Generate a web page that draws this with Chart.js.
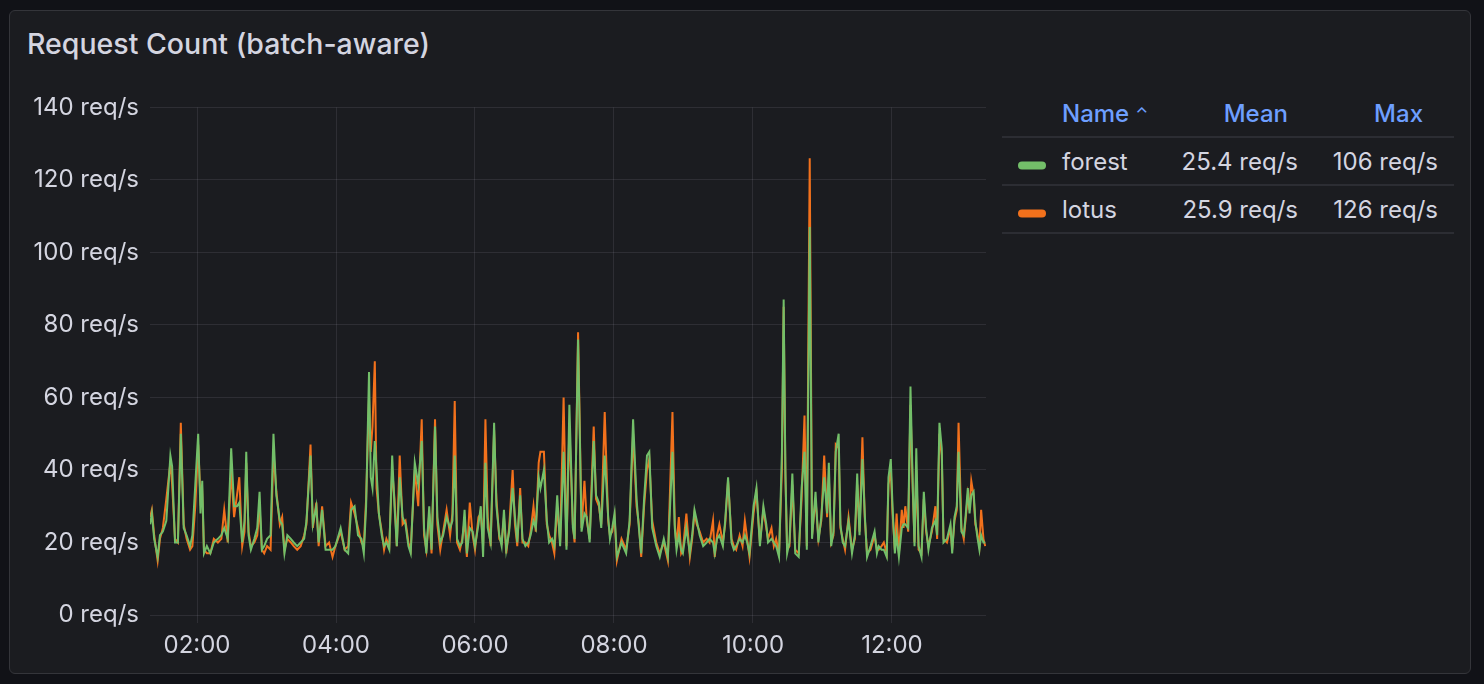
<!DOCTYPE html>
<html>
<head>
<meta charset="utf-8">
<script src="https://cdn.jsdelivr.net/npm/chart.js@4/dist/chart.umd.min.js"></script>
<style>
    body { margin: 0; background: #111217; width: 1484px; height: 684px; overflow: hidden; font-family: Inter, sans-serif; }
    .panel { position: absolute; left: 9px; top: 10px; width: 1462px; height: 664px; background: #1b1c20; border: 1px solid #34353a; border-radius: 6px; box-sizing: border-box; }
    .title { position: absolute; left: 27px; top: 26px; font-size: 28.5px; font-weight: 500; color: #d4d5e0; }
    .chart-box { position: absolute; left: 20px; top: 82px; width: 980px; height: 593px; }
    .legend { position: absolute; left: 1002px; top: 90px; width: 452px; color: #d4d5e0; font-size: 24px; }
    .legend .row { position: relative; height: 48px; border-bottom: 2px solid #2c2d33; box-sizing: border-box; }
    .legend .row span { position: absolute; top: 50%; transform: translateY(-50%); white-space: nowrap; }
    .legend .head span { color: #6e9fff; font-weight: 500; }
    .swatch { display: inline-block; width: 28px; height: 8px; border-radius: 4px; }
</style>
</head>
<body>
<div class="panel"></div>
<div class="title">Request Count (batch-aware)</div>
<div class="chart-box"><canvas id="reqChart"></canvas></div>
<div class="legend" id="legend"></div>

<script>
// minutes since midnight
const times = [79.5, 81, 83, 86, 88, 90.5, 93.5, 97, 98.5, 101, 103.5, 106, 108.5, 111, 114, 116, 118.5, 121, 123, 124.5,
    126, 128.5, 131.5, 134.5, 138, 141, 143.5, 146.5, 149.5, 152, 154.5, 156.5, 159, 161, 162.5, 164.5, 166.5, 169.5, 172, 174,
    176, 178, 180.5, 183.5, 186, 188.5, 191.5, 193.5, 195.5, 198, 201, 203.5, 206.5, 209.5, 212.5, 214.5, 218, 220, 223, 225,
    228, 231, 234, 237, 239.5, 244, 247.5, 250.5, 253, 256, 259, 262, 264, 266, 268.5, 270, 271.5, 273.5, 275, 277,
    279.5, 281.5, 283.5, 286, 288.5, 290.5, 292.5, 295, 297.5, 300, 302.5, 304.5, 308, 311, 314, 316, 318, 320.5, 322.5, 325.5,
    327.5, 330, 332.5, 335.5, 338.5, 340.5, 342.5, 344.5, 347, 349, 351, 353, 355.5, 358, 360, 363, 365, 367, 369, 371,
    373.5, 376.5, 378.5, 381, 383, 385, 387, 389.5, 392.5, 394.5, 396.5, 399, 401, 403.5, 406, 408, 410.5, 412.5, 415, 416.5,
    419.5, 422, 424, 426.5, 428.5, 431, 433.5, 436.5, 439, 441.5, 444.5, 446, 449, 452, 454.5, 456.5, 459, 462.5, 464.5, 467,
    469, 472, 475, 476.5, 478.5, 480.5, 482.5, 486.5, 490.5, 493.5, 496.5, 499.5, 501.5, 503.5, 506, 508.5, 510.5, 513, 516.5, 519.5,
    523, 526.5, 530.5, 532.5, 534, 536, 538, 539.5, 542.5, 545.5, 547.5, 549.5, 551.5, 554, 557, 560, 562.5, 565.5, 567, 569,
    571, 574, 576, 578.5, 581.5, 583.5, 585.5, 588.5, 591, 593, 595, 597, 600.5, 603, 606, 609, 611.5, 613, 616, 618,
    620, 622.5, 625, 626.5, 628, 629.5, 631.5, 634, 636.5, 639.5, 642, 644.5, 646.5, 649, 651, 654, 656.5, 659, 661.5, 664,
    665.5, 667.5, 669.5, 671.5, 674, 675.5, 677.5, 679.5, 682.5, 685.5, 688, 690, 692, 694.5, 696.5, 698.5, 701.5, 705, 707, 708.5,
    711, 713, 715.5, 717, 719, 720.5, 722.5, 724, 726, 728.5, 730, 731.5, 734, 736, 738, 739.5, 741, 743, 745.5, 747.5,
    749.5, 751.5, 754.5, 757.5, 759, 761, 763, 764.5, 767.5, 770.5, 772, 774, 776, 777.5, 780, 782, 783.5, 785.5, 787, 788.5,
    790.5, 792, 793.5, 795.5, 797, 799, 800.5];

const forest = [25, 28, 21, 16, 22, 23, 26, 44, 41, 20, 20, 50, 24, 22, 19, 22, 36, 50, 28, 37,
    17, 19, 17, 20, 21, 22, 24, 21, 46, 30, 30, 31, 20, 26, 45, 22, 18, 21, 24, 34,
    18, 19, 21, 22, 50, 33, 26, 25, 17, 22, 21, 20, 19, 20, 21, 26, 44, 25, 30, 20,
    29, 18, 18, 18, 19, 24, 18, 17, 29, 30, 22, 21, 17, 30, 67, 38, 35, 48, 40, 28,
    22, 19, 20, 18, 44, 30, 19, 38, 27, 25, 19, 17, 42, 36, 48, 24, 17, 30, 18, 52,
    27, 20, 22, 27, 24, 26, 44, 21, 19, 20, 29, 17, 24, 23, 19, 25, 30, 16, 42, 24,
    20, 53, 30, 22, 19, 29, 18, 23, 35, 27, 20, 33, 21, 19, 20, 22, 26, 24, 38, 35,
    40, 26, 20, 21, 19, 33, 19, 45, 18, 58, 24, 21, 76, 23, 28, 27, 20, 48, 33, 31,
    24, 44, 27, 21, 24, 28, 16, 20, 17, 26, 54, 32, 24, 17, 32, 44, 45, 24, 19, 16,
    21, 16, 45, 24, 18, 22, 18, 17, 24, 17, 22, 29, 26, 22, 19, 20, 21, 20, 17, 21,
    22, 19, 26, 38, 20, 18, 19, 21, 20, 22, 20, 17, 30, 35, 19, 30, 25, 20, 21, 20,
    19, 16, 45, 87, 40, 17, 20, 39, 17, 16, 35, 45, 18, 107, 21, 34, 20, 27, 38, 28,
    42, 19, 23, 45, 50, 25, 20, 19, 26, 17, 22, 39, 22, 43, 28, 16, 19, 23, 17, 19,
    18, 18, 16, 38, 43, 30, 17, 22, 16, 24, 25, 25, 24, 63, 35, 19, 46, 19, 16, 34,
    24, 18, 24, 26, 22, 53, 46, 20, 21, 25, 17, 27, 30, 45, 23, 22, 27, 35, 28, 33,
    34, 26, 22, 18, 22, 20, 20];

const lotus = [27, 29, 22, 15, 21, 24, 32, 42, 36, 21, 20, 53, 25, 21, 18, 19, 30, 47, 32, 34,
    18, 17, 17, 21, 20, 21, 29, 20, 40, 27, 33, 38, 19, 23, 42, 23, 19, 20, 22, 30,
    18, 17, 19, 18, 45, 34, 25, 27, 18, 21, 20, 19, 18, 19, 22, 25, 47, 24, 31, 19,
    30, 19, 20, 16, 19, 23, 18, 19, 31, 28, 24, 20, 19, 32, 60, 45, 52, 70, 35, 28,
    23, 18, 21, 19, 40, 32, 19, 44, 25, 26, 20, 18, 40, 30, 54, 22, 18, 28, 17, 54,
    25, 18, 23, 29, 22, 28, 59, 20, 18, 21, 26, 16, 31, 22, 18, 27, 28, 19, 54, 27,
    19, 51, 32, 21, 20, 27, 17, 24, 40, 25, 19, 35, 20, 20, 19, 23, 30, 23, 42, 45,
    45, 25, 22, 20, 17, 30, 20, 60, 19, 52, 25, 20, 78, 24, 37, 26, 21, 52, 32, 30,
    25, 56, 26, 22, 23, 27, 15, 21, 18, 25, 50, 30, 25, 16, 30, 40, 43, 26, 20, 17,
    20, 15, 56, 25, 19, 27, 17, 18, 28, 16, 21, 28, 25, 23, 20, 21, 20, 26, 16, 22,
    25, 20, 25, 37, 21, 19, 18, 22, 19, 26, 21, 16, 28, 34, 20, 29, 24, 21, 24, 19,
    21, 17, 40, 85, 38, 18, 19, 36, 18, 17, 32, 55, 19, 126, 22, 32, 21, 26, 44, 27,
    38, 20, 22, 47, 46, 24, 21, 18, 27, 18, 21, 36, 23, 49, 27, 17, 18, 22, 18, 18,
    19, 20, 17, 36, 40, 28, 18, 28, 17, 29, 24, 30, 23, 58, 34, 20, 40, 18, 17, 32,
    23, 19, 23, 30, 21, 50, 44, 21, 20, 24, 18, 26, 29, 53, 24, 21, 26, 33, 29, 37,
    33, 25, 23, 19, 29, 21, 19];

const seriesNames = ['forest', 'lotus'];
const seriesColors = ['#73bf69', '#f2711c'];
const legendMean = ['25.4 req/s', '25.9 req/s'];
const legendMax = ['106 req/s', '126 req/s'];
const xTicks = [120, 240, 360, 480, 600, 720];
const yTicks = [0, 20, 40, 60, 80, 100, 120, 140];

const gridColor = 'rgba(204, 204, 220, 0.11)';
const textColor = '#d4d5e0';

Chart.defaults.font.family = 'Inter, sans-serif';
Chart.defaults.color = textColor;

function toPoints(values) {
    return values.map((v, i) => ({ x: times[i], y: v }));
}

function pad2(n) {
    return n < 10 ? '0' + n : '' + n;
}

const ctx = document.getElementById('reqChart').getContext('2d');
const reqChart = new Chart(ctx, {
    type: 'line',
    data: {
        datasets: [
            { label: seriesNames[0], data: toPoints(forest), borderColor: seriesColors[0] },
            { label: seriesNames[1], data: toPoints(lotus), borderColor: seriesColors[1] }
        ]
    },
    options: {
        responsive: true,
        maintainAspectRatio: false,
        animation: false,
        datasets: {
            line: { borderWidth: 2, pointRadius: 0, tension: 0, fill: false }
        },
        layout: { padding: { top: 10, right: 14, left: 0, bottom: 0 } },
        plugins: { legend: { display: false }, tooltip: { enabled: false } },
        scales: {
            x: {
                type: 'linear',
                min: 79.4,
                max: 801.2,
                afterBuildTicks: axis => { axis.ticks = xTicks.map(v => ({ value: v })); },
                afterFit: axis => { axis.height = 60; },
                border: { display: false },
                grid: { color: gridColor, tickLength: 8 },
                ticks: {
                    padding: 8,
                    maxRotation: 0,
                    font: { size: 24 },
                    callback: v => pad2(Math.floor(v / 60)) + ':00'
                }
            },
            y: {
                min: 0,
                max: 140,
                afterBuildTicks: axis => { axis.ticks = yTicks.map(v => ({ value: v })); },
                afterFit: axis => { axis.width = 130; },
                border: { display: false },
                grid: { color: gridColor, drawTicks: false },
                ticks: {
                    padding: 11,
                    font: { size: 24 },
                    callback: v => v + ' req/s'
                }
            }
        }
    }
});

function buildLegend() {
    const legend = document.getElementById('legend');
    let html = '<div class="row head">' +
        '<span style="left:60px">Name <span style="position:static;transform:none;font-size:16px;vertical-align:3px">&#8963;</span></span>' +
        '<span style="right:166px">Mean</span>' +
        '<span style="right:31px">Max</span></div>';
    seriesNames.forEach((name, i) => {
        html += '<div class="row">' +
            '<span style="left:16px"><i class="swatch" style="background:' + seriesColors[i] + '"></i></span>' +
            '<span style="left:60px">' + name + '</span>' +
            '<span style="right:156px">' + legendMean[i] + '</span>' +
            '<span style="right:16px">' + legendMax[i] + '</span></div>';
    });
    legend.innerHTML = html;
}

buildLegend();
</script>
</body>
</html>
